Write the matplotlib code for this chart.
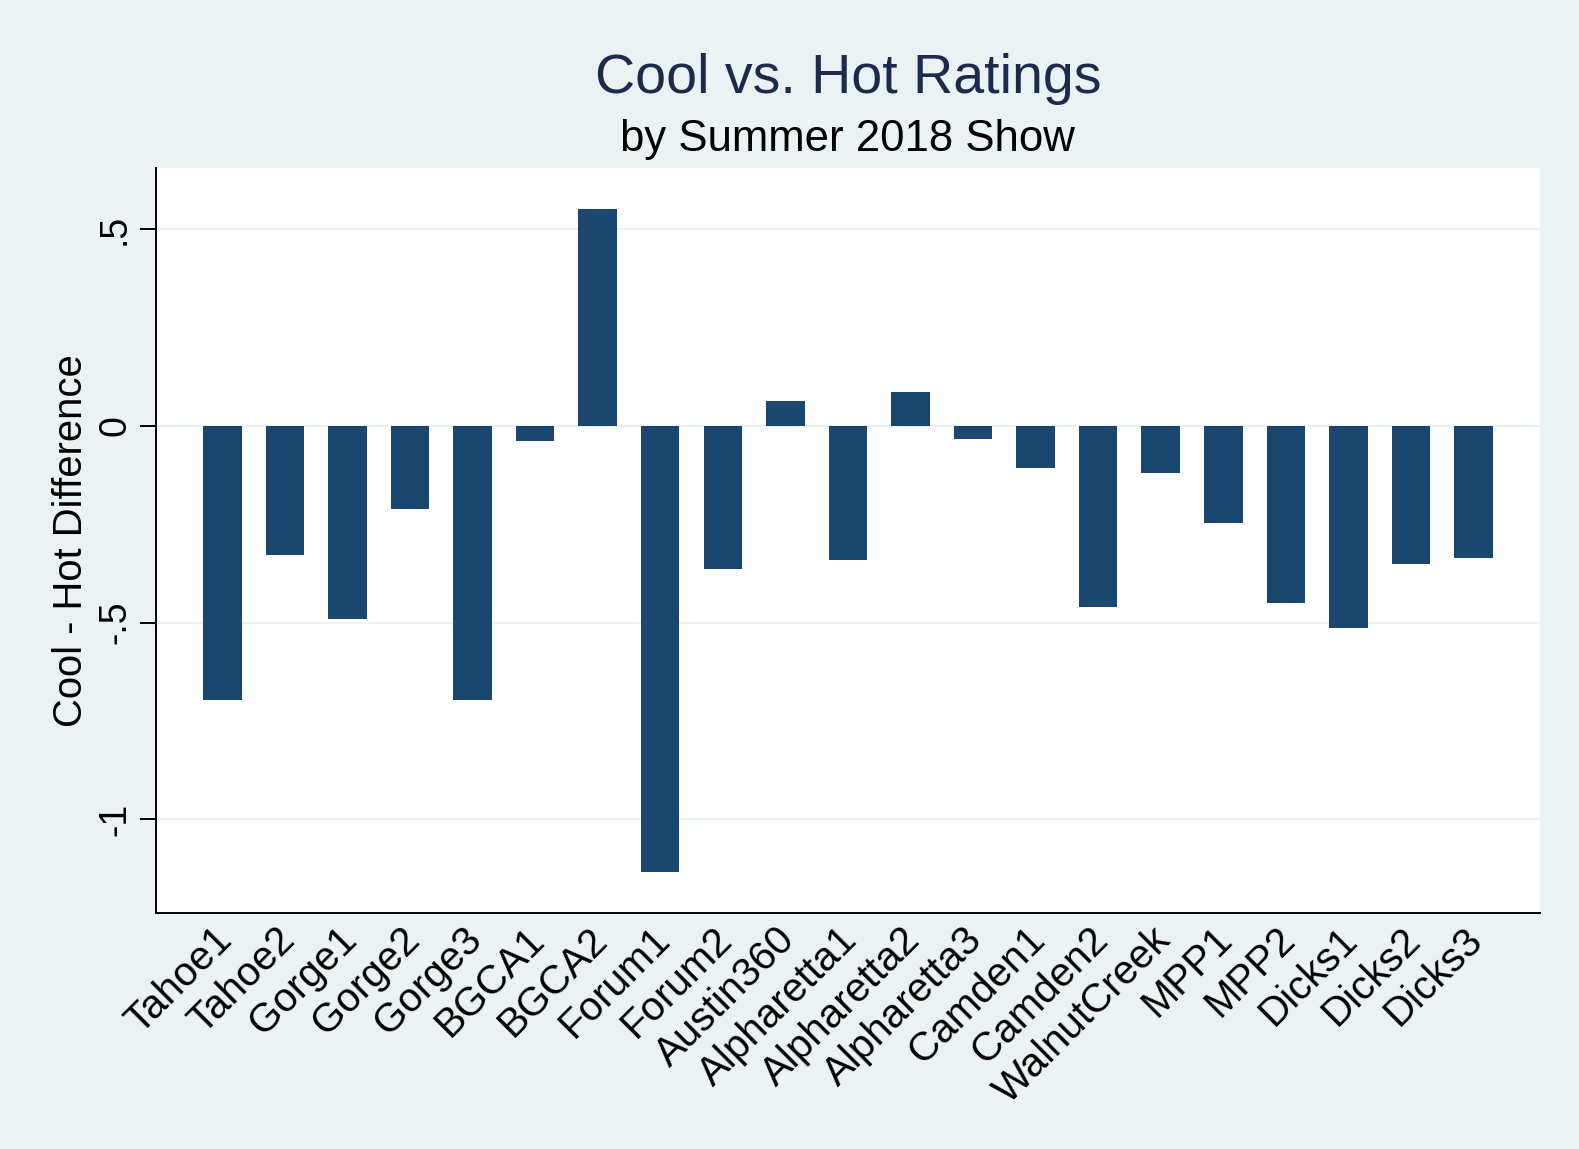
import matplotlib
matplotlib.use('Agg')
from matplotlib import pyplot as plt
import matplotlib.transforms as mtransforms

shows = ['Tahoe1', 'Tahoe2', 'Gorge1', 'Gorge2', 'Gorge3', 'BGCA1', 'BGCA2',
         'Forum1', 'Forum2', 'Austin360', 'Alpharetta1', 'Alpharetta2',
         'Alpharetta3', 'Camden1', 'Camden2', 'WalnutCreek', 'MPP1', 'MPP2',
         'Dicks1', 'Dicks2', 'Dicks3']
diff = [-0.696, -0.327, -0.491, -0.210, -0.696, -0.038, 0.552,
        -1.133, -0.363, 0.064, -0.340, 0.087,
        -0.033, -0.107, -0.460, -0.120, -0.248, -0.450,
        -0.514, -0.350, -0.335]
yticks = [-1, -0.5, 0, 0.5]
ytick_labels = ['-1', '-.5', '0', '.5']

plt.rcParams['font.family'] = ['Liberation Sans', 'DejaVu Sans']

bg = '#EAF2F3'
navy = '#1A476F'

fig = plt.figure(figsize=(15.79, 11.49), dpi=100, facecolor=bg)
ax = fig.add_axes([0.0988, 0.2054, 0.9752 - 0.0988, 0.854 - 0.2054])
ax.set_facecolor('white')

x = list(range(len(shows)))
ax.bar(x, diff, width=0.615, color=navy, zorder=3)

ax.set_xlim(-1.06, len(shows) - 1 + 1.06)
ax.set_ylim(-1.238, 0.656)

ax.set_yticks(yticks)
ax.set_yticklabels(ytick_labels, rotation=90, va='center')
ax.yaxis.grid(True, color=bg, linewidth=1.6, zorder=0)
ax.set_axisbelow(True)

ax.set_xticks(x)
ax.set_xticklabels(shows, rotation=45, ha='right', va='top',
                   rotation_mode='anchor')

ax.tick_params(axis='x', length=0, pad=5, labelsize=29)
ax.tick_params(axis='y', length=11.5, width=1.4, pad=5, labelsize=27)

# nudge the slanted labels left (after tick_params, which resets transforms)
offset = mtransforms.ScaledTranslation(-10 / 100, 0, fig.dpi_scale_trans)
for lab in ax.get_xticklabels():
    lab.set_transform(lab.get_transform() + offset)

for side in ['top', 'right']:
    ax.spines[side].set_visible(False)
for side in ['left', 'bottom']:
    ax.spines[side].set_linewidth(1.4)

ax.set_ylabel('Cool - Hot Difference', fontsize=28.8)
ax.yaxis.set_label_coords(-0.048, 0.5)

cx = (0.0988 + 0.9752) / 2
fig.text(cx, 0.919, 'Cool vs. Hot Ratings', ha='center', va='baseline',
         fontsize=40, color='#1C2A4E')
fig.text(cx, 0.8686, 'by Summer 2018 Show', ha='center', va='baseline',
         fontsize=31.5, color='black')

fig.savefig('out.png', dpi=100, facecolor=bg)
